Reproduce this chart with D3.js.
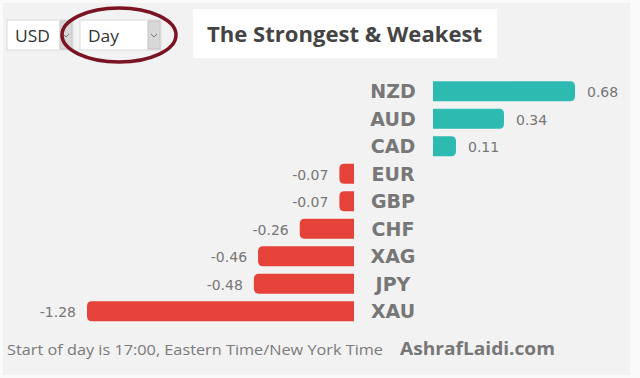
<!DOCTYPE html>
<html>
<head>
<meta charset="utf-8">
<script src="https://cdn.jsdelivr.net/npm/d3@7"></script>
<style>
  body { margin: 0; background: #f2f2f2; }
  #container { width: 640px; height: 378px; }
</style>
</head>
<body>
<div id="container"></div>
<script>
const currencies = ["NZD", "AUD", "CAD", "EUR", "GBP", "CHF", "XAG", "JPY", "XAU"]
const changes = [0.68, 0.34, 0.11, -0.07, -0.07, -0.26, -0.46, -0.48, -1.28]
const baseCurrency = "USD"
const period = "Day"
const title = "The Strongest & Weakest"
const footnote = "Start of day is 17:00, Eastern Time/New York Time"
const brand = "AshrafLaidi.com"

const W = 640, H = 378
const posColor = "#2dbab1", negColor = "#e5433a", textGray = "#767676"
const verdana = "DejaVu Sans, Verdana, sans-serif"
const segoe = "Open Sans, sans-serif"

const svg = d3.select('#container')
    .append('svg').attr('width', W).attr('height', H)

svg.append('rect').attr('x', 0).attr('y', 0).attr('width', W).attr('height', H).attr('fill', '#fafafa')
svg.append('rect').attr('x', 3).attr('y', 3).attr('width', 627).attr('height', 372).attr('fill', '#f2f2f2')

// fit text to a measured width from the picture
const fit = (sel, w) => {
    if (sel.node().getComputedTextLength() > 0) sel.attr('textLength', w).attr('lengthAdjust', 'spacingAndGlyphs')
}

// dropdowns
const drop = (x, w, label, tw) => {
    const g = svg.append('g')
    g.append('rect').attr('x', x).attr('y', 20).attr('width', w).attr('height', 30)
        .attr('fill', '#fff').attr('stroke', '#d9d9d9')
    g.append('rect').attr('x', x + w - 13).attr('y', 21).attr('width', 12).attr('height', 28)
        .attr('fill', '#d8d8d8').attr('stroke', '#c4c4c4')
    g.append('path').attr('d', `M${x + w - 10},34 l3,3 l3,-3`).attr('fill', 'none')
        .attr('stroke', '#777').attr('stroke-width', 1)
    const t = g.append('text').attr('x', x + 8).attr('y', 42).text(label)
        .attr('font-family', segoe).attr('font-size', 17).attr('fill', '#333')
    fit(t, tw)
}
drop(7, 66, baseCurrency, 35)
drop(80, 81, period, 31)
svg.append('ellipse').attr('cx', 119).attr('cy', 35).attr('rx', 57).attr('ry', 27)
    .attr('fill', 'none').attr('stroke', '#7a1424').attr('stroke-width', 3.5)

// title box
svg.append('rect').attr('x', 193).attr('y', 9).attr('width', 304).attr('height', 49).attr('fill', '#fff')
const t = svg.append('text').attr('x', 207).attr('y', 42).text(title)
    .attr('font-family', segoe).attr('font-weight', 700)
    .attr('font-size', 22).attr('fill', '#444')
fit(t, 275)

// scales
const y = d3.scaleBand().domain(currencies).range([77.5, 325]).paddingInner(0.28).paddingOuter(0.14)
const posX = d3.scaleLinear().domain([0, 0.68]).range([433, 575])
const negX = d3.scaleLinear().domain([-1.28, 0]).range([87, 354])
const r = 5

const barPath = (d, i) => {
    const y0 = y(currencies[i]), h = y.bandwidth()
    if (d >= 0) {
        const x0 = posX(0), x1 = posX(d), rr = Math.min(r, x1 - x0)
        return `M${x0},${y0} H${x1 - rr} Q${x1},${y0} ${x1},${y0 + rr} V${y0 + h - rr} Q${x1},${y0 + h} ${x1 - rr},${y0 + h} H${x0} Z`
    }
    const x0 = negX(0), x1 = negX(d), rr = Math.min(r, x0 - x1)
    return `M${x0},${y0} H${x1 + rr} Q${x1},${y0} ${x1},${y0 + rr} V${y0 + h - rr} Q${x1},${y0 + h} ${x1 + rr},${y0 + h} H${x0} Z`
}

svg.selectAll('.bar').data(changes).enter().append('path')
    .attr('class', 'bar')
    .attr('d', barPath)
    .attr('fill', d => d >= 0 ? posColor : negColor)

svg.selectAll('.cur').data(currencies).enter().append('text')
    .attr('class', 'cur')
    .attr('x', 393).attr('y', d => y(d) + y.bandwidth() / 2 + 7)
    .attr('text-anchor', 'middle')
    .attr('font-family', verdana)
    .attr('font-weight', 'bold').attr('font-size', 19).attr('fill', '#777')
    .text(d => d)

svg.selectAll('.val').data(changes).enter().append('text')
    .attr('class', 'val')
    .attr('x', d => d >= 0 ? posX(d) + 12 : negX(d) - 11)
    .attr('y', (d, i) => y(currencies[i]) + y.bandwidth() / 2 + 6)
    .attr('text-anchor', d => d >= 0 ? 'start' : 'end')
    .attr('font-family', verdana)
    .attr('font-size', 14).attr('fill', textGray)
    .text(d => d.toFixed(2))

// footer
const fn = svg.append('text').attr('x', 7).attr('y', 355).text(footnote)
    .attr('font-family', segoe).attr('font-size', 14.5).attr('fill', '#7a7a7a')
fit(fn, 376)
const br = svg.append('text').attr('x', 400).attr('y', 355).text(brand)
    .attr('font-family', segoe).attr('font-weight', 700)
    .attr('font-size', 18).attr('fill', '#777')
fit(br, 155)
</script>
</body>
</html>
